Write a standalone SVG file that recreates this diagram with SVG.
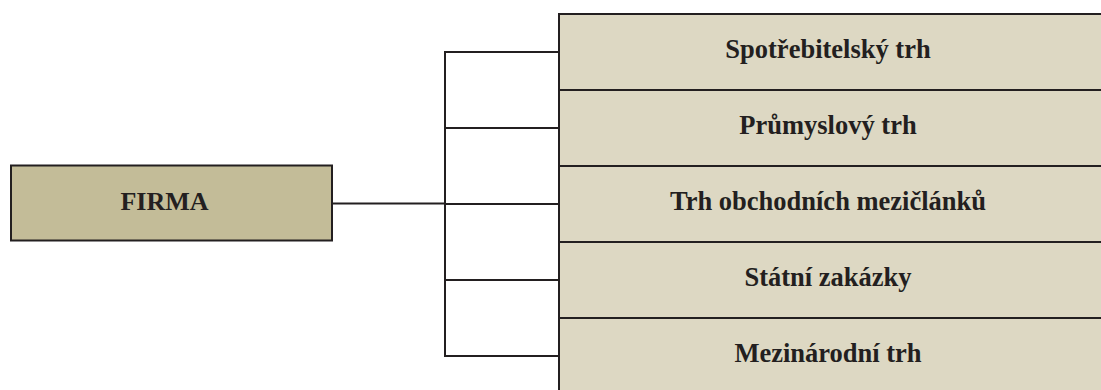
<svg xmlns="http://www.w3.org/2000/svg" width="1101" height="390" viewBox="0 0 1101 390">
  <style>
    .box { stroke: #231f20; stroke-width: 2; }
    .firm { fill: #c3bc98; }
    .market { fill: #ddd8c3; }
    .label { font-family: "Liberation Serif", "Times New Roman", serif; font-weight: bold; font-size: 26.5px; fill: #231f20; text-anchor: middle; }
    .firm-label { font-size: 26px; }
    .wire { fill: none; stroke: #231f20; stroke-width: 2; }
  </style>
  <rect width="1101" height="390" fill="#ffffff"/>

  <g id="connectors">
    <line class="wire" x1="332" y1="203.5" x2="445" y2="203.5"/>
    <line class="wire" x1="445" y1="51" x2="445" y2="357"/>
    <line class="wire" x1="444" y1="52" x2="559" y2="52"/>
    <line class="wire" x1="444" y1="128" x2="559" y2="128"/>
    <line class="wire" x1="444" y1="204" x2="559" y2="204"/>
    <line class="wire" x1="444" y1="280" x2="559" y2="280"/>
    <line class="wire" x1="444" y1="356" x2="559" y2="356"/>
  </g>

  <g id="firma">
    <rect class="box firm" x="11" y="165.5" width="321" height="75"/>
    <text class="label firm-label" x="164.5" y="209.5">FIRMA</text>
  </g>

  <g id="spotrebitelsky-trh">
    <rect class="box market" x="559" y="14" width="560" height="76"/>
    <text class="label" x="828" y="57.5">Spotřebitelský trh</text>
  </g>
  <g id="prumyslovy-trh">
    <rect class="box market" x="559" y="90" width="560" height="76"/>
    <text class="label" x="828" y="133.5">Průmyslový trh</text>
  </g>
  <g id="trh-obchodnich-mezicl">
    <rect class="box market" x="559" y="166" width="560" height="76"/>
    <text class="label" x="828" y="209.5">Trh obchodních mezičlánků</text>
  </g>
  <g id="statni-zakazky">
    <rect class="box market" x="559" y="242" width="560" height="76"/>
    <text class="label" x="828" y="285.5">Státní zakázky</text>
  </g>
  <g id="mezinarodni-trh">
    <rect class="box market" x="559" y="318" width="560" height="80"/>
    <text class="label" x="828" y="361.5">Mezinárodní trh</text>
  </g>
</svg>
